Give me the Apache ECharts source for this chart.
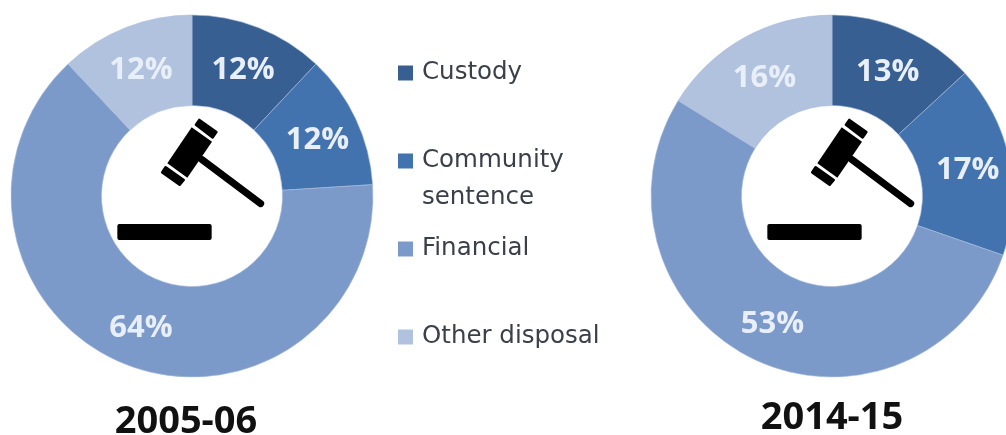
<!DOCTYPE html>
<html>
<head>
<meta charset="utf-8">
<style>html,body{margin:0;padding:0;background:#fff}#chart{width:1006px;height:435px}</style>
<script src="https://cdn.jsdelivr.net/npm/echarts@6/dist/echarts.min.js"></script>
</head>
<body>
<div id="chart"></div>
<script>
const categories = ['Custody', 'Community sentence', 'Financial', 'Other disposal'];
const colours = ['#375f92', '#4273ae', '#7b9aca', '#b0c2de'];
const values2005 = [12, 12, 64, 12];
const values2014 = [13, 17, 53, 16];
const periods = ['2005-06', '2014-15'];

const chart = echarts.init(document.getElementById('chart'), null, {renderer: 'canvas'});

function donut(name, values, cx) {
  return {
    type: 'pie',
    name: name,
    center: [cx, 196],
    radius: [90.5, 181],
    startAngle: 90,
    clockwise: true,
    silent: true,
    animation: false,
    itemStyle: {borderColor: '#a9bcda', borderWidth: 0.6},
    label: {
      show: true,
      position: 'inside',
      formatter: p => p.value + '%',
      color: '#e9eff8',
      fontFamily: 'Open Sans',
      fontWeight: 'bold',
      fontSize: 31,
      offset: [0, 3]
    },
    labelLine: {show: false},
    data: categories.map((c, i) => ({name: c, value: values[i], itemStyle: {color: colours[i]}}))
  };
}

// Gavel and sounding block, drawn in a 3x local space and scaled down
function gavel(x) {
  const ink = {fill: '#000'};
  const rounded = {fill: '#000', stroke: '#000', lineWidth: 8, lineJoin: 'round'};
  return {
    type: 'group', x: x, y: 100, scaleX: 1 / 3, scaleY: 1 / 3, silent: true,
    children: [
      {type: 'line', shape: {x1: 335, y1: 178, x2: 512, y2: 311}, style: {stroke: '#000', lineWidth: 21, lineCap: 'round'}},
      {type: 'polygon', shape: {points: [[305, 82], [366, 125], [292, 233], [232, 190]]}, style: ink},
      {type: 'polygon', shape: {points: [[328, 60], [379, 96], [368, 112], [318, 74]]}, style: rounded},
      {type: 'polygon', shape: {points: [[227, 202], [281, 240], [269, 254], [217, 217]]}, style: rounded},
      {type: 'rect', shape: {x: 82, y: 372, width: 283, height: 48, r: 6}, style: ink}
    ]
  };
}

chart.setOption({
  animation: false,
  backgroundColor: '#fff',
  title: [
    {text: periods[0], left: 181, top: 396, textAlign: 'center',
     textStyle: {fontFamily: 'Open Sans', fontWeight: 'bold', fontSize: 38, color: '#111', lineHeight: 42}},
    {text: periods[1], left: 827, top: 392, textAlign: 'center',
     textStyle: {fontFamily: 'Open Sans', fontWeight: 'bold', fontSize: 38, color: '#111', lineHeight: 42}}
  ],
  legend: {
    orient: 'vertical',
    left: 398,
    top: 60,
    padding: 0,
    itemWidth: 15,
    itemHeight: 15,
    itemGap: 62,
    icon: 'rect',
    selectedMode: false,
    data: categories,
    itemStyle: {borderWidth: 0},
    formatter: n => n === 'Community sentence' ? 'Community' : n,
    textStyle: {fontFamily: 'DejaVu Sans', fontSize: 24.5, color: '#3a3f4a', lineHeight: 26, padding: [0, 0, 0, 4]}
  },
  graphic: [
    gavel(90),
    gavel(740),
    {type: 'text', x: 422, y: 185, silent: true,
     style: {text: 'sentence', fontFamily: 'DejaVu Sans', fontSize: 24.5, fill: '#3a3f4a'}}
  ],
  series: [donut(periods[0], values2005, 192), donut(periods[1], values2014, 832)]
});
</script>
</body>
</html>
